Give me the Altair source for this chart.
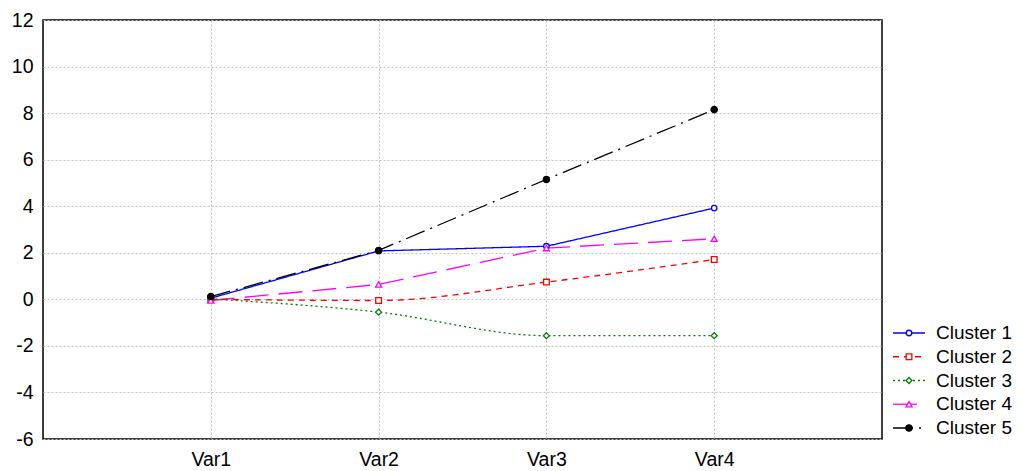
import altair as alt
import pandas as pd

variables = ["Var1", "Var2", "Var3", "Var4"]
clusters = ["Cluster 1", "Cluster 2", "Cluster 3", "Cluster 4", "Cluster 5"]
cluster1 = [0.05, 2.08, 2.28, 3.92]
cluster2 = [0.0, -0.05, 0.74, 1.71]
cluster3 = [0.02, -0.55, -1.56, -1.56]
cluster4 = [-0.05, 0.64, 2.2, 2.6]
cluster5 = [0.12, 2.1, 5.15, 8.15]
series = [cluster1, cluster2, cluster3, cluster4, cluster5]

y_ticks = [-6, -4, -2, 0, 2, 4, 6, 8, 10, 12]

# styles
colors = ["#0000ff", "#ff0000", "#008000", "#ff00ff", "#000000"]
fills = ["#ffffff", "#ffffff", "#ffffff", "#ffffff", "#000000"]
dashes = [[1, 0], [6, 5], [2, 3], [24, 10], [20, 6, 2, 6]]
shapes = ["circle", "square", "diamond", "triangle-up", "circle"]
sizes = [30, 40, 90, 60, 28]
interps = ["linear", "monotone", "monotone", "linear", "linear"]

rows = []
for c, vals, ip in zip(clusters, series, interps):
    for v, val in zip(variables, vals):
        rows.append({"cluster": c, "var": v, "value": val, "interp": ip})
df = pd.DataFrame(rows)
leg = pd.DataFrame({"cluster": clusters})

stroke_s = alt.Stroke("cluster:N", scale=alt.Scale(domain=clusters, range=colors), legend=None)
fill_s = alt.Fill("cluster:N", scale=alt.Scale(domain=clusters, range=fills), legend=None)
dash_s = alt.StrokeDash("cluster:N", scale=alt.Scale(domain=clusters, range=dashes), legend=None)
shape_s = alt.Shape("cluster:N", scale=alt.Scale(domain=clusters, range=shapes), legend=None)
size_s = alt.Size("cluster:N", scale=alt.Scale(domain=clusters, range=sizes), legend=None)

x_enc = alt.X("var:N", sort=variables, scale=alt.Scale(type="point", padding=1),
              axis=alt.Axis(title=None, labelAngle=0, grid=True, ticks=False, domain=False,
                            labelPadding=11, labelFontSize=19.5, labelColor="black"))
y_enc = alt.Y("value:Q", scale=alt.Scale(domain=[-6, 12], nice=False, zero=False),
              axis=alt.Axis(title=None, values=y_ticks, grid=True, ticks=False, domain=False,
                            labelExpr="'' + datum.value",
                            labelPadding=10, labelFontSize=19.5, labelColor="black"))

base = alt.Chart(df)
line_lin = base.transform_filter(alt.datum.interp == "linear").mark_line(
    interpolate="linear", strokeWidth=1.3).encode(x=x_enc, y=y_enc, stroke=stroke_s,
                                                 strokeDash=dash_s, order="var:N")
line_mono = base.transform_filter(alt.datum.interp == "monotone").mark_line(
    interpolate="monotone", strokeWidth=1.3).encode(x=x_enc, y=y_enc, stroke=stroke_s,
                                                   strokeDash=dash_s, order="var:N")
pts = base.mark_point(opacity=1, strokeWidth=1.3).encode(
    x=x_enc, y=y_enc, stroke=stroke_s, fill=fill_s, shape=shape_s, size=size_s)

main = alt.layer(line_lin, line_mono, pts)

leg_y = alt.Y("cluster:N", scale=alt.Scale(type="point", domain=clusters, range=[313, 408], padding=0),
              axis=None)
lb = alt.Chart(leg)
leg_rule = lb.mark_rule(strokeWidth=1.3).encode(
    x=alt.value(850), x2=alt.value(882), y=leg_y, stroke=stroke_s, strokeDash=dash_s)
leg_pt = lb.mark_point(opacity=1, strokeWidth=1.3).encode(
    x=alt.value(866), y=leg_y, stroke=stroke_s, fill=fill_s, shape=shape_s, size=size_s)
leg_txt = lb.mark_text(align="left", baseline="middle", fontSize=19, color="black").encode(
    x=alt.value(893), y=leg_y, text="cluster:N")
legend = alt.layer(leg_rule, leg_pt, leg_txt)

chart = alt.layer(main, legend).resolve_scale(y="independent").properties(
    width=839, height=419,
    autosize=alt.AutoSizeParams(type="none"),
    padding={"left": 35, "top": 12, "right": 131, "bottom": 32},
    background="white",
).configure_view(stroke="black", strokeWidth=1.5).configure_axis(
    gridColor="#c0c0c0", gridDash=[2, 2], gridWidth=1,
    labelFont="Liberation Sans",
).configure_text(font="Liberation Sans")

chart.save("out.html", embed_options={"renderer": "svg", "actions": False})
